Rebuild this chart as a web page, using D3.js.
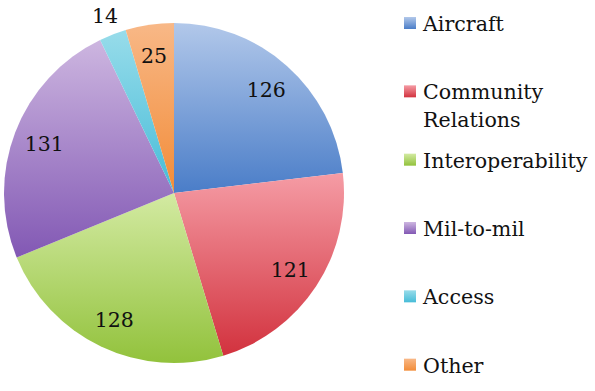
<!DOCTYPE html>
<html><head><meta charset="utf-8">
<script src="https://cdn.jsdelivr.net/npm/d3@7"></script>
<style>html,body{margin:0;padding:0;background:#fff;}svg{display:block;}</style>
</head><body>
<svg id="chart" width="595" height="391"></svg>
<script>
const categories = ["Aircraft", "Community Relations", "Interoperability", "Mil-to-mil", "Access", "Other"];
const values = [126, 121, 128, 131, 14, 25];
const legendLines = [["Aircraft"], ["Community", "Relations"], ["Interoperability"], ["Mil-to-mil"], ["Access"], ["Other"]];
const colorsLight = ["#b2c8ea", "#f59ca5", "#d3eaa2", "#cdb6e0", "#98dcea", "#f8b887"];
const colorsDark  = ["#4a7dc8", "#d2323e", "#92c23c", "#8258b4", "#46bcd8", "#f28c38"];

const svg = d3.select("#chart");
const cx = 174, cy = 193, R = 170;
const font = "'DejaVu Serif', serif";

const defs = svg.append("defs");
categories.forEach((c, i) => {
  const g = defs.append("linearGradient").attr("id", "g" + i)
    .attr("x1", 0).attr("y1", 0).attr("x2", 0).attr("y2", 1);
  g.append("stop").attr("offset", "0%").attr("stop-color", colorsLight[i]);
  g.append("stop").attr("offset", "100%").attr("stop-color", colorsDark[i]);
});

const pie = d3.pie().sort(null).value(d => d);
const arcs = pie(values);
const arc = d3.arc().innerRadius(0).outerRadius(R);
const labelArc = d3.arc().innerRadius(139).outerRadius(139);
const outerLabelArc = d3.arc().innerRadius(191).outerRadius(191);

const gPie = svg.append("g").attr("transform", `translate(${cx},${cy})`);
gPie.selectAll("path").data(arcs).enter().append("path")
  .attr("d", arc)
  .attr("fill", (d, i) => `url(#g${i})`);

gPie.selectAll("text").data(arcs).enter().append("text")
  .attr("transform", d => {
    const small = (d.endAngle - d.startAngle) < 0.2;
    const p = (small ? outerLabelArc : labelArc).centroid(d);
    return `translate(${p[0]},${p[1] + 8})`;
  })
  .attr("text-anchor", "middle")
  .attr("font-family", font)
  .attr("font-size", 20.5)
  .attr("fill", "#111")
  .text(d => d.data);

// legend
const legendY = d3.scaleBand().domain(categories).range([0, 410]).paddingInner(0);
const lg = svg.append("g").attr("transform", "translate(404,0)");
categories.forEach((c, i) => {
  const base = 31 + legendY(c) - legendY(categories[0]);
  const row = lg.append("g");
  row.append("rect").attr("x", 0).attr("y", base - 14).attr("width", 12).attr("height", 12)
    .attr("fill", `url(#g${i})`);
  legendLines[i].forEach((t, j) => {
    row.append("text").attr("x", 19).attr("y", base + j * 28)
      .attr("font-family", font).attr("font-size", 20.6).attr("fill", "#111").text(t);
  });
});
</script>
</body></html>
